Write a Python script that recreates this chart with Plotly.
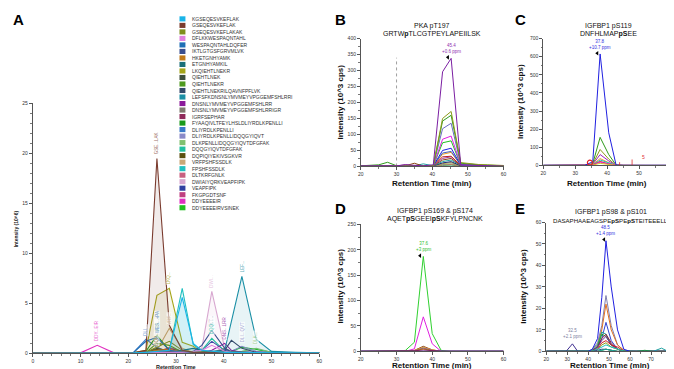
import plotly.graph_objects as go

W, H = 674, 369
FONT = "Arial, Liberation Sans, sans-serif"


def px(x):
    return x / W


def py(y):
    return 1 - y / H


# ---------------- Panel A data ----------------
a_times = [0, 10, 13.5, 17, 21, 23.7, 26, 28.6, 31.3, 33.6, 35.4, 37.5, 40.2, 41.6, 43.8, 46.8, 50, 55, 60]
a_peptides = [
    "KGSEQESVKEFLAK", "GSEQESVKEFLAK", "GSEQESVKEFLAKAK", "DFLKKWESPAQNTAHL",
    "WESPAQNTAHLDQFER", "IKTLGTGSFGRVMLVK", "HKETGNHYAMK", "ETGNHYAMKIL",
    "LKQIEHTLNEKR", "QIEHTLNEK", "QIEHTLNEKR", "QIEHTLNEKRILQAVNFPFLVK",
    "LEFSFKDNSNLYMVMEYVPGGEMFSHLRRI", "DNSNLYMVMEYVPGGEMFSHLRR",
    "DNSNLYMVMEYVPGGEMFSHLRRIGR", "IGRFSEPHAR", "FYAAQIVLTFEYLHSLDLIYRDLKPENLLI",
    "DLIYRDLKPENLLI", "DLIYRDLKPENLLIDQQGYIQVT", "DLKPENLLIDQQGYIQVTDFGFAK",
    "DQQGYIQVTDFGFAK", "DQPIQIYEKIVSGKVR", "VRFPSHFSSDLK", "FPSHFSSDLK",
    "DLTKRFGNLK", "DWIAIYQRKVEAPFIPK", "VEAPFIPK", "FKGPGDTSNF", "DDYEEEEIR",
    "DDYEEEEIRVSINEK",
]
a_colors = [
    "#1ab4e8", "#7a3b2e", "#7f8f1e", "#e080e0", "#1f6fb5", "#3a4f8f", "#c07a1a",
    "#1a6f7a", "#a5a51a", "#3d4f3d", "#4f9a1f", "#334a6a", "#1b8fa5", "#8b1a9a",
    "#7f7a70", "#8f2a5a", "#1a9a1a", "#3a7ac8", "#8a8ac8", "#80c070", "#20c0a0",
    "#5a5010", "#c8a878", "#20c0c0", "#c86080", "#d8a8d0", "#3040a0", "#c04080",
    "#e030c0", "#20c020",
]
a_values = [
    [0, 0, 0, 0, 0.05, 0.1, 0.2, 0.3, 5.6, 1.0, 0.3, 0.2, 0.1, 0.1, 0.1, 0.1, 0.05, 0.05, 0.05],
    [0, 0, 0, 0, 0.05, 0.3, 19.5, 2.8, 0.3, 0.1, 0.1, 0.1, 0.05, 0.05, 0.05, 0.05, 0.05, 0.05, 0.05],
    [0, 0, 0, 0, 0.05, 0.1, 0.6, 1.2, 0.3, 0.1, 0.1, 0.1, 0.05, 0.05, 0.05, 0.05, 0.05, 0.05, 0.05],
    [0, 0, 0, 0, 0.05, 0.1, 0.1, 0.1, 0.1, 0.2, 0.3, 0.8, 0.2, 0.1, 0.1, 0.1, 0.05, 0.05, 0.05],
    [0, 0, 0, 0, 0.05, 1.2, 1.6, 0.3, 0.1, 0.1, 0.1, 0.1, 0.05, 0.05, 0.05, 0.05, 0.05, 0.05, 0.05],
    [0, 0, 0, 0, 0.05, 0.1, 0.1, 0.1, 0.1, 0.2, 0.8, 2.3, 0.5, 0.1, 0.1, 0.1, 0.05, 0.05, 0.05],
    [0, 0, 0, 0, 0.05, 0.1, 0.3, 0.4, 0.1, 0.1, 0.1, 0.1, 0.05, 0.05, 0.05, 0.05, 0.05, 0.05, 0.05],
    [0, 0, 0, 0, 0.05, 0.1, 0.1, 0.1, 0.3, 0.5, 0.3, 0.1, 0.1, 0.1, 0.1, 0.1, 0.05, 0.05, 0.05],
    [0, 0, 0, 0, 0.05, 0.3, 5.8, 6.5, 1.1, 0.7, 0.1, 0.1, 0.05, 0.05, 0.05, 0.05, 0.05, 0.05, 0.05],
    [0, 0, 0, 0, 0.05, 0.1, 0.5, 0.2, 0.1, 0.1, 0.1, 0.1, 0.05, 0.05, 0.05, 0.05, 0.05, 0.05, 0.05],
    [0, 0, 0, 0, 0.05, 0.1, 1.0, 0.8, 0.1, 0.1, 0.1, 0.1, 0.05, 0.05, 0.05, 0.05, 0.05, 0.05, 0.05],
    [0, 0, 0, 0, 0.05, 0.1, 0.1, 0.1, 0.1, 0.1, 0.1, 0.1, 0.3, 1.3, 0.5, 0.1, 0.05, 0.05, 0.05],
    [0, 0, 0, 0, 0.05, 0.1, 0.1, 0.1, 0.1, 0.1, 0.1, 0.2, 0.3, 3.2, 7.7, 1.4, 0.2, 0.1, 0.05],
    [0, 0, 0, 0, 0.05, 0.1, 0.1, 0.1, 0.1, 0.1, 0.1, 0.3, 1.0, 0.3, 0.1, 0.1, 0.05, 0.05, 0.05],
    [0, 0, 0, 0, 0.05, 0.1, 0.1, 0.1, 0.1, 0.1, 0.1, 0.1, 0.5, 0.2, 0.1, 0.1, 0.05, 0.05, 0.05],
    [0, 0, 0, 0, 0.05, 0.1, 0.1, 0.5, 0.2, 0.1, 0.1, 0.1, 0.05, 0.05, 0.05, 0.05, 0.05, 0.05, 0.05],
    [0, 0, 0, 0, 0.05, 0.2, 1.8, 0.3, 0.1, 0.1, 0.1, 0.1, 0.05, 0.05, 0.05, 0.05, 0.05, 0.05, 0.05],
    [0, 0, 0, 0, 0.05, 1.4, 0.6, 0.1, 0.1, 0.1, 0.1, 0.1, 0.05, 0.05, 0.05, 0.05, 0.05, 0.05, 0.05],
    [0, 0, 0, 0, 0.05, 0.1, 0.1, 0.1, 0.1, 0.1, 0.1, 0.1, 0.1, 0.2, 0.7, 0.2, 0.05, 0.05, 0.05],
    [0, 0, 0, 0, 0.05, 0.1, 0.1, 0.1, 0.1, 0.1, 0.1, 0.1, 0.1, 0.1, 0.2, 0.5, 0.1, 0.05, 0.05],
    [0, 0, 0, 0, 0.05, 0.1, 0.1, 0.1, 0.1, 0.1, 0.3, 1.5, 0.2, 0.1, 0.1, 0.1, 0.05, 0.05, 0.05],
    [0, 0, 0, 0, 0.05, 0.1, 0.4, 0.1, 0.1, 0.1, 0.1, 0.1, 0.05, 0.05, 0.05, 0.05, 0.05, 0.05, 0.05],
    [0, 0, 0, 0, 0.05, 0.1, 0.3, 2.5, 0.5, 0.1, 0.1, 0.1, 0.05, 0.05, 0.05, 0.05, 0.05, 0.05, 0.05],
    [0, 0, 0, 0, 0.05, 0.1, 0.1, 0.3, 6.5, 0.9, 0.2, 0.1, 0.05, 0.05, 0.05, 0.05, 0.05, 0.05, 0.05],
    [0, 0, 0, 0, 0.05, 0.1, 0.1, 0.6, 0.2, 0.1, 0.1, 0.1, 0.05, 0.05, 0.05, 0.05, 0.05, 0.05, 0.05],
    [0, 0, 0, 0, 0.05, 0.1, 0.1, 0.1, 0.1, 0.1, 0.5, 6.2, 0.5, 0.1, 0.1, 0.1, 0.05, 0.05, 0.05],
    [0, 0, 0, 0, 0.05, 0.1, 0.1, 0.1, 0.1, 0.1, 0.3, 1.2, 0.3, 0.1, 0.1, 0.1, 0.05, 0.05, 0.05],
    [0, 0, 0, 0, 0.05, 0.1, 0.1, 0.1, 0.1, 0.1, 0.1, 0.1, 0.3, 0.1, 0.1, 0.1, 0.05, 0.05, 0.05],
    [0, 0.05, 0.8, 0.05, 0.05, 0.1, 0.1, 0.1, 0.1, 0.1, 0.1, 0.1, 0.05, 0.05, 0.05, 0.05, 0.05, 0.05, 0.05],
    [0, 0, 0, 0, 0.05, 0.1, 0.1, 0.1, 0.1, 0.1, 0.1, 0.1, 0.1, 0.2, 0.6, 0.4, 0.1, 0.05, 0.05],
]
a_filled = [1, 8, 12, 23, 0, 25]
a_labels = {
    28: "DDY...EIR", 1: "GSE...LAK", 8: "LKQ...", 12: "LEF...", 25: "DWI...",
    5: "IKT...", 13: "DNS...LRR", 18: "DLI...QVT", 19: "DLK...", 20: "DQQ...",
    22: "VRF...", 16: "FYA...", 21: "DQP...", 17: "DLI...", 4: "WES...+PA",
}

# ---------------- Panel B data ----------------
b_title = ["PKA pT197", "GRTW<b>p</b>TLCGTPEYLAPEIILSK"]
b_times = [20, 22.5, 25, 27.5, 30, 32.5, 35, 37.5, 40.3, 42.9, 45.3, 48, 50.5, 53, 55.5, 58, 60]
b_colors = ["#7b1fa2", "#8c9a1a", "#2e9a1a", "#6a6ac0", "#e020e0", "#20c020", "#2020e0",
            "#4060c0", "#f0a020", "#c02020", "#a040a0", "#8b4513", "#20a0a0", "#202080",
            "#a0a030", "#909090", "#d07030", "#40b080"]
b_values = [
    [2, 2, 3, 3, 2, 5, 3, 2, 5, 296, 338, 5, 4, 3, 2, 2, 1],
    [1, 1, 2, 2, 1, 1, 2, 1, 3, 150, 172, 12, 8, 6, 5, 4, 3],
    [2, 3, 5, 13, 2, 1, 2, 1, 3, 142, 160, 10, 7, 5, 4, 3, 2],
    [1, 1, 1, 1, 1, 1, 1, 1, 2, 118, 135, 6, 4, 3, 3, 2, 1],
    [0, 0, 1, 1, 1, 1, 1, 1, 2, 85, 95, 5, 4, 3, 2, 2, 1],
    [0, 0, 1, 1, 1, 1, 1, 1, 2, 74, 80, 5, 4, 3, 2, 2, 1],
    [0, 0, 0, 1, 1, 1, 1, 1, 2, 50, 57, 4, 3, 2, 2, 1, 1],
    [0, 0, 0, 1, 1, 1, 1, 1, 2, 42, 47, 4, 3, 2, 2, 1, 1],
    [0, 0, 0, 1, 1, 1, 1, 1, 2, 38, 44, 4, 3, 2, 2, 1, 1],
    [0, 0, 0, 1, 1, 1, 1, 1, 2, 30, 32, 3, 3, 2, 2, 1, 1],
    [0, 0, 0, 1, 1, 6, 1, 1, 2, 25, 30, 3, 2, 2, 1, 1, 1],
    [0, 0, 0, 1, 1, 2, 10, 1, 2, 20, 25, 3, 2, 2, 1, 1, 1],
    [0, 0, 0, 1, 1, 1, 2, 8, 2, 15, 20, 3, 2, 2, 1, 1, 1],
    [0, 0, 0, 1, 1, 1, 1, 1, 2, 11, 15, 2, 2, 1, 1, 1, 1],
    [0, 0, 0, 1, 1, 1, 1, 1, 2, 9, 12, 2, 2, 1, 1, 1, 1],
    [0, 0, 0, 1, 1, 1, 1, 1, 2, 6, 8, 2, 1, 1, 1, 1, 1],
    [0, 0, 0, 0, 0, 0, 0, 0, 1, 5, 6, 2, 1, 1, 1, 1, 1],
    [0, 0, 0, 0, 0, 0, 0, 0, 1, 3, 4, 1, 1, 1, 1, 1, 0],
]
b_peak_label = ["45.4", "+0.6 ppm"]
b_dashed_x = 30
b_dashed_top = 340

# ---------------- Panel C data ----------------
c_title = ["IGFBP1 pS119", "DNFHLMAP<b>pS</b>EE"]
c_times = [20, 25, 30, 33, 35.5, 37.8, 40.5, 42.8, 45, 48, 52, 56, 60]
c_colors = ["#2e9a1a", "#8c9a1a", "#a020c0", "#f0a020", "#20c0c0", "#e02020",
            "#e020e0", "#d0c020", "#2020e0"]
c_values = [
    [0, 0, 0, 0, 10, 155, 60, 2, 0, 0, 0, 0, 0],
    [0, 0, 0, 0, 8, 88, 35, 1, 0, 0, 0, 0, 0],
    [0, 0, 0, 0, 6, 60, 25, 1, 0, 0, 0, 0, 0],
    [0, 0, 0, 0, 5, 38, 15, 1, 0, 0, 0, 0, 0],
    [0, 0, 0, 0, 4, 30, 12, 1, 0, 0, 0, 0, 0],
    [0, 0, 0, 0, 3, 22, 8, 1, 0, 0, 0, 0, 0],
    [0, 0, 0, 0, 3, 18, 6, 0, 0, 0, 0, 0, 0],
    [0, 0, 0, 0, 2, 12, 5, 0, 0, 0, 0, 0, 0],
    [1, 1, 1, 1, 20, 615, 180, 2, 1, 1, 1, 1, 1],
]
c_peak_label = ["37.8", "+10.7 ppm"]
c_ms2_x = [43.9, 47.8]
c_ms2_h = [18, 33]
c_ms2_count = "5"
c_circle = (34.6, 15)

# ---------------- Panel D data ----------------
d_title = ["IGFBP1 pS169 &amp; pS174", "AQET<b>pS</b>GEEI<b>pS</b>KFYLPNCNK"]
d_times = [20, 25, 30, 32.5, 35, 37.5, 40, 42.5, 45, 50, 55, 60]
d_colors = ["#30d030", "#e020e0", "#8b4513", "#f0a020", "#909090", "#a040a0",
            "#8c9a1a", "#c02020", "#2020c0"]
d_values = [
    [0, 0, 0, 2, 18, 187, 35, 2, 0, 0, 0, 0],
    [0, 0, 0, 0, 5, 68, 15, 0, 0, 0, 0, 0],
    [0, 0, 0, 0, 2, 10, 3, 0, 0, 0, 0, 0],
    [0, 0, 0, 0, 2, 8, 3, 0, 0, 0, 0, 0],
    [0, 0, 0, 0, 1, 7, 2, 0, 0, 0, 0, 0],
    [0, 0, 0, 0, 1, 6, 2, 0, 0, 0, 0, 0],
    [0, 0, 0, 0, 1, 5, 1, 0, 0, 0, 0, 0],
    [0, 0, 0, 0, 1, 3, 1, 0, 0, 0, 0, 0],
    [0.5, 0.5, 0.5, 0.5, 0.5, 1, 0.5, 0.5, 0.5, 0.5, 0.5, 0.5],
]
d_peak_label = ["37.6", "+3 ppm"]

# ---------------- Panel E data ----------------
e_title = ["IGFBP1 pS98 &amp; pS101", "DASAPHAAEAGSPE<b>pS</b>PE<b>pS</b>TEITEEELL"]
e_times = [20, 25, 29.5, 32.5, 35, 40, 42, 44.5, 46.5, 48.5, 51, 54, 57, 60, 63, 67, 71, 75, 78, 80]
e_colors = ["#8080b0", "#e07020", "#3040d0", "#20a090", "#20a020", "#8b1a3a",
            "#7030a0", "#d02020", "#8c9a1a", "#20c0c0", "#403090", "#20a020",
            "#20a0a0", "#2020e0"]
e_values = [
    [0, 0, 0, 0, 0, 0, 1, 4, 12, 26, 12, 3, 0.5, 0, 0, 0, 0, 0, 0, 0],
    [0, 0, 0, 0, 0, 0, 0.5, 3, 10, 22, 10, 3, 0.5, 0, 0, 0, 0, 0, 0, 0],
    [0, 0, 0, 0, 0, 0, 0.3, 2, 6, 13.5, 5, 1, 0.3, 0, 0, 0, 0, 0, 0, 0],
    [0, 0, 0, 0, 0, 0, 0.5, 3, 9, 8, 3, 1, 0.2, 0, 0, 0, 0, 0, 0, 0],
    [0, 0, 0, 0, 0, 0, 0.5, 2, 8, 7, 3, 1, 0.2, 0, 0, 0, 0, 0, 0, 0],
    [0, 0, 0, 0, 0, 0, 0.3, 2, 6, 8, 4, 1, 0.2, 0, 0, 0, 0, 0, 0, 0],
    [0, 0, 0, 0, 0, 0, 0.3, 2, 5, 7, 3, 1, 0.2, 0, 0, 0, 0, 0, 0, 0],
    [0, 0, 0, 0, 0, 0, 0.2, 1, 4, 5, 3, 2, 0.2, 0, 0, 0, 0, 0, 0, 0],
    [0, 0, 0, 0, 0, 0, 0.2, 1, 3, 4, 2, 1, 0.2, 0, 0, 0, 0, 0, 0, 0],
    [0, 0, 0, 0, 0, 0, 0.2, 1, 2, 3, 2, 1, 0.2, 0, 0, 0, 0, 0, 0, 0],
    [0, 0, 0, 3.5, 0, 0, 0, 0.5, 1, 1, 0.5, 0, 0, 0, 0, 0, 0, 0, 0, 0],
    [0, 0, 0, 0, 0, 0, 0, 0, 0.5, 1, 0.5, 0, 0, 0, 0, 0.5, 0, 0, 0, 0],
    [0, 0, 0, 0, 0, 0, 0, 0, 0.5, 1, 0.5, 0, 0, 0, 0, 0, 0, 1.5, 0, 0],
    [0, 0, 0, 0, 0, 0, 1, 6, 25, 51.5, 30, 10, 1, 0, 0, 0, 0, 0, 0, 0],
]
e_peak_label = ["48.5", "+1.4 ppm"]
e_minor_label = ["32.5", "+2.1 ppm"]
e_minor_idx = 10

# ---------------- Layout geometry (pixels) ----------------
panels = {
    "A": dict(x=(22, 311), y=(94, 348), xr=[0, 60], yr=[0, 25]),
    "B": dict(x=(353, 497), y=(28, 158), xr=[20, 60], yr=[0, 400]),
    "C": dict(x=(537, 666), y=(28, 157), xr=[20, 60], yr=[0, 700]),
    "D": dict(x=(353, 497), y=(217, 346), xr=[20, 60], yr=[0, 250]),
    "E": dict(x=(540, 667), y=(215, 346), xr=[20, 80], yr=[0, 60]),
}
axis_ids = {"A": "", "B": "2", "C": "3", "D": "4", "E": "5"}

fig = go.Figure()


def xy(panel):
    n = axis_ids[panel]
    return "x" + n, "y" + n


def hex_rgba(h, a):
    h = h.lstrip("#")
    return "rgba(%d,%d,%d,%s)" % (int(h[0:2], 16), int(h[2:4], 16), int(h[4:6], 16), a)


def paper_text(x, y, text, size, color="#111", angle=0):
    return dict(x=px(x), y=py(y), xref="paper", yref="paper", text=text, showarrow=False,
                xanchor="center", yanchor="middle", textangle=angle, borderpad=0,
                font=dict(size=size, color=color, family=FONT))


# Panel A traces (reverse order so first legend items sit on top)
xa, ya = xy("A")
for i in reversed(range(len(a_peptides))):
    kw = {}
    if i in a_filled:
        kw = dict(fill="tozeroy", fillcolor=hex_rgba(a_colors[i], 0.10))
    fig.add_trace(go.Scatter(x=a_times, y=a_values[i], mode="lines", name=a_peptides[i],
                             line=dict(color=a_colors[i], width=1.1), xaxis=xa, yaxis=ya,
                             showlegend=False, **kw))

annotations = []
shapes = []

for i, lab in a_labels.items():
    vals = a_values[i]
    k = max(range(len(vals)), key=lambda j: vals[j])
    annotations.append(dict(x=a_times[k], y=vals[k] + 0.3, xref=xa, yref=ya, text=lab,
                            textangle=-90, showarrow=False, xanchor="center", yanchor="bottom",
                            font=dict(size=4.5, color=hex_rgba(a_colors[i], 0.75), family=FONT),
                            bgcolor="rgba(255,255,255,0.6)", borderpad=0))

# Manual legend for panel A
for i, (name, col) in enumerate(zip(a_peptides, a_colors)):
    yc = 8 + i * 6.62
    shapes.append(dict(type="rect", xref="paper", yref="paper", x0=px(170), x1=px(176),
                       y0=py(yc + 2.6), y1=py(yc - 2.6), fillcolor=col, line=dict(width=0)))
    annotations.append(dict(x=px(181), y=py(yc), xref="paper", yref="paper", text=name,
                            showarrow=False, xanchor="left", yanchor="middle",
                            font=dict(size=5, color="#333", family=FONT)))


def add_lines(panel, times, values, colors, width=1.0):
    xs, ys = xy(panel)
    for v, c in zip(values, colors):
        fig.add_trace(go.Scatter(x=times, y=v, mode="lines", line=dict(color=c, width=width),
                                 xaxis=xs, yaxis=ys, showlegend=False))


def peak_label(panel, times, vals, lines, color, dy, tri=True):
    xs, ys = xy(panel)
    k = max(range(len(vals)), key=lambda j: vals[j])
    annotations.append(dict(x=times[k], y=vals[k] + dy, xref=xs, yref=ys,
                            text="<br>".join(lines), showarrow=False, xanchor="center",
                            yanchor="bottom", align="center",
                            font=dict(size=4.5, color=color, family=FONT)))
    if tri:
        fig.add_trace(go.Scatter(x=[times[k] - 0.9], y=[vals[k] + dy * 0.4], mode="markers",
                                 marker=dict(symbol="triangle-left", size=4, color="black"),
                                 xaxis=xs, yaxis=ys, showlegend=False))


# Panel B
xb, yb = xy("B")
fig.add_trace(go.Scatter(x=[b_dashed_x, b_dashed_x], y=[0, b_dashed_top], mode="lines",
                         line=dict(color="#888", width=0.8, dash="dot"), xaxis=xb, yaxis=yb,
                         showlegend=False))
add_lines("B", b_times, list(reversed(b_values)), list(reversed(b_colors)))
peak_label("B", b_times, b_values[0], b_peak_label, "#9030b0", 8)

# Panel C
add_lines("C", c_times, c_values, c_colors)
xc, yc_ = xy("C")
for xm, hm in zip(c_ms2_x, c_ms2_h):
    fig.add_trace(go.Scatter(x=[xm, xm], y=[0, hm], mode="lines", line=dict(color="#e03030", width=0.8),
                             xaxis=xc, yaxis=yc_, showlegend=False))
fig.add_trace(go.Scatter(x=[c_circle[0]], y=[c_circle[1]], mode="markers",
                         marker=dict(symbol="circle-open", size=5, color="#e02020", line=dict(width=1.2)),
                         xaxis=xc, yaxis=yc_, showlegend=False))
annotations.append(dict(x=c_ms2_x[-1] + 3.5, y=45, xref=xc, yref=yc_, text=c_ms2_count, showarrow=False,
                        font=dict(size=5, color="#e03030", family=FONT)))
peak_label("C", c_times, c_values[-1], c_peak_label, "#3030e0", 10)

# Panel D
add_lines("D", d_times, d_values, d_colors)
peak_label("D", d_times, d_values[0], d_peak_label, "#30c030", 4)

# Panel E
add_lines("E", e_times, e_values, e_colors)
peak_label("E", e_times, e_values[-1], e_peak_label, "#3030e0", 1.5)
peak_label("E", e_times, e_values[e_minor_idx], e_minor_label, "#8080a0", 1.2, tri=False)

# Axes
layout = {}
tickfont = dict(size=5, color="#333", family=FONT)
for p, g in panels.items():
    n = axis_ids[p]
    xdom = [px(g["x"][0]), px(g["x"][1])]
    ydom = [py(g["y"][1]), py(g["y"][0])]
    common = dict(showline=True, linecolor="#555", linewidth=0.8, ticks="outside", ticklen=3,
                  tickwidth=0.6, tickcolor="#555", tickfont=tickfont, showgrid=False,
                  zeroline=False, fixedrange=True)
    layout["xaxis" + n] = dict(domain=xdom, range=g["xr"], anchor="y" + n, dtick=10,
                               minor=dict(ticks="outside", ticklen=1.5, tickcolor="#777",
                                          tickwidth=0.5, dtick=2 if p == "A" else 5),
                               **common)
    ydt = {"A": 5, "B": 50, "C": 100, "D": 50, "E": 10}[p]
    layout["yaxis" + n] = dict(domain=ydom, range=g["yr"], anchor="x" + n, dtick=ydt,
                               minor=dict(ticks="outside", ticklen=1.5, tickcolor="#777",
                                          tickwidth=0.5, dtick=ydt / 5 if p == "A" else ydt / 2),
                               **common)

# Axis titles and panel titles
annotations.append(paper_text(166, 361.5, "<b>Retention Time</b>", 5.5, "#222"))
annotations.append(paper_text(5, 221, "<b>Intensity (10^6)</b>", 5, "#222", angle=-90))

titles = {"B": (b_title, 425, 15, (7, 7)), "C": (c_title, 603, 15, (7, 7)),
          "D": (d_title, 428, 203, (7, 7)), "E": (e_title, 605, 204, (7, 6.1))}
for p, (tl, cx, ty, fs) in titles.items():
    for j, t in enumerate(tl):
        annotations.append(paper_text(cx, ty + j * 8.5, t, fs[j]))

axis_titles = {"B": (332, 93, 425, 175), "C": (514, 92, 601, 175), "D": (332, 280, 425, 360),
               "E": (517, 280, 604, 360)}
for p, (yx, yy, xx, xyy) in axis_titles.items():
    annotations.append(paper_text(yx, yy, "<b>Intensity (10^3 cps)</b>", 8, angle=-90))
    annotations.append(paper_text(xx, xyy, "<b>Retention Time (min)</b>", 8))

letters = {"A": (8, 9), "B": (332, 9), "C": (514, 9), "D": (332, 201), "E": (514, 201)}
for L, (lx, ly) in letters.items():
    annotations.append(paper_text(lx, ly, "<b>%s</b>" % L, 15, "#000"))

fig.update_layout(width=W, height=H, margin=dict(l=0, r=0, t=0, b=0), paper_bgcolor="white",
                  plot_bgcolor="white", showlegend=False, annotations=annotations, shapes=shapes,
                  font=dict(family=FONT), **layout)

fig.write_html("out.html")
